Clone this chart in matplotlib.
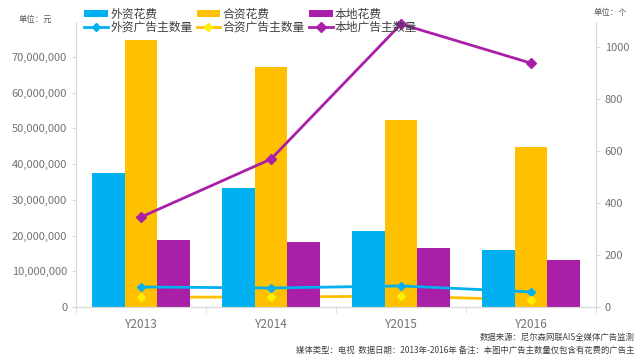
import numpy as np
import matplotlib.pyplot as plt
from matplotlib.ticker import FuncFormatter

plt.rcParams['font.family'] = ['Noto Sans CJK SC', 'DejaVu Sans']

years = ['Y2013', 'Y2014', 'Y2015', 'Y2016']
foreign_spend = [37.5e6, 33.3e6, 21.3e6, 16.0e6]
joint_spend = [74.8e6, 67.2e6, 52.4e6, 44.8e6]
local_spend = [18.8e6, 18.2e6, 16.5e6, 13.2e6]
foreign_count = [77, 73, 81, 58]
joint_count = [38, 38, 42, 27]
local_count = [346, 569, 1088, 938]

blue = '#00B0F0'
orange = '#FFC000'
purple = '#A91FA8'

fig = plt.figure(figsize=(6.4, 3.58), dpi=100)
ax = fig.add_axes([0.119, 0.1425, 0.812, 0.796])
ax2 = ax.twinx()

x = np.arange(len(years))
w = 0.25
b1 = ax.bar(x - w, foreign_spend, w, color=blue, label='外资花费', zorder=2)
b2 = ax.bar(x, joint_spend, w, color=orange, label='合资花费', zorder=2)
b3 = ax.bar(x + w, local_spend, w, color=purple, label='本地花费', zorder=2)

# orange count line goes behind the bars, so it lives on ax but uses the right scale
l2, = ax.plot(x, joint_count, color=orange, lw=2, marker='D', ms=4, mfc='#FFF000', mec='#FFF000',
              label='合资广告主数量', zorder=1, transform=ax2.transData)
l1, = ax2.plot(x, foreign_count, color=blue, lw=2, marker='D', ms=4, label='外资广告主数量', zorder=3)
l3, = ax2.plot(x, local_count, color=purple, lw=2, marker='D', ms=5, label='本地广告主数量', zorder=3, clip_on=False)
# yellow markers stay visible on top of the bar
ax2.plot(x, joint_count, ls='none', marker='D', ms=4, mfc='#FFF000', mec='#FFF000', zorder=3)

ax.set_zorder(ax2.get_zorder() - 1)
ax.patch.set_visible(False)
ax2.patch.set_visible(False)

ax.set_xlim(-0.5, 3.5)
ax.set_ylim(0, 79.8e6)
ax2.set_ylim(0, 1096)
ax.set_yticks(np.arange(0, 70e6 + 1, 10e6))
ax2.set_yticks(np.arange(0, 1001, 200))
ax.yaxis.set_major_formatter(FuncFormatter(lambda v, p: f'{int(v):,}'))
ax.set_xticks(x)
ax.set_xticklabels(years)
ax.set_xticks(np.arange(-0.5, 3.6, 1), minor=True)

for a in (ax, ax2):
    a.spines['top'].set_visible(False)
    for s in ('left', 'right', 'bottom'):
        a.spines[s].set_color('#D9D9D9')
    a.tick_params(colors='#D9D9D9', labelcolor='#737373', labelsize=8, length=3)
ax.tick_params(axis='x', length=0, pad=8, labelsize=8.5)
ax.tick_params(axis='x', which='minor', length=4, color='#D9D9D9')
ax.spines['bottom'].set_color('#BFBFBF')

handles = [b1, l1, b2, l2, b3, l3]
leg = fig.legend(handles, [h.get_label() for h in handles], ncol=3, loc='upper left',
                 bbox_to_anchor=(0.115, 1.008), frameon=False, fontsize=8.5,
                 handlelength=2.0, handleheight=0.6, handletextpad=0.2,
                 columnspacing=0.35, labelspacing=0.0, labelcolor='#404040')

fig.text(0.055, 0.945, '单位：元', fontsize=6, color='#595959', ha='center', va='center')
fig.text(0.953, 0.965, '单位：个', fontsize=6, color='#595959', ha='center', va='center')
fig.text(0.992, 0.058, '数据来源：尼尔森网联AIS全媒体广告监测', fontsize=6, color='#404040', ha='right', va='center')
fig.text(0.992, 0.022, '媒体类型：电视  数据日期：2013年-2016年 备注：本图中广告主数量仅包含有花费的广告主',
         fontsize=6, color='#404040', ha='right', va='center')

fig.savefig('out.png', dpi=100)
